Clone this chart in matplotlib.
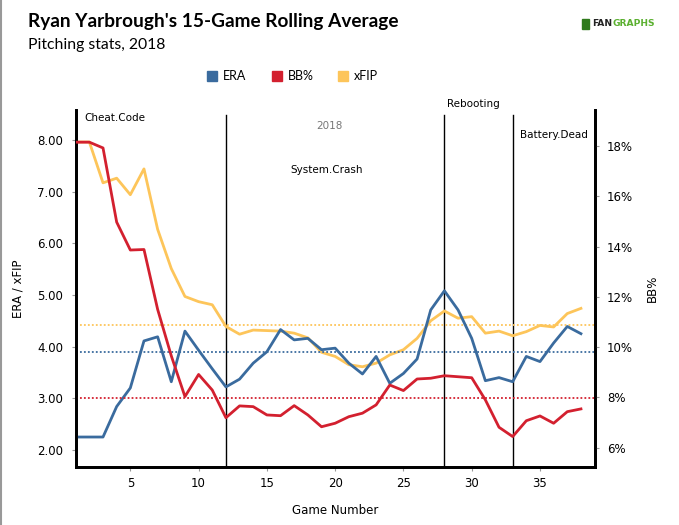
import matplotlib
matplotlib.use("Agg")
import matplotlib.pyplot as plt
from matplotlib.patches import Rectangle
from matplotlib.lines import Line2D

# 15-game rolling averages, games 1..38
games = list(range(1, 39))
era = [2.25, 2.25, 2.25, 2.84, 3.20, 4.11, 4.19, 3.32, 4.30, 3.93,
       3.57, 3.22, 3.37, 3.68, 3.90, 4.33, 4.13, 4.16, 3.94, 3.97,
       3.68, 3.47, 3.81, 3.29, 3.48, 3.76, 4.71, 5.08, 4.71, 4.16,
       3.34, 3.40, 3.32, 3.81, 3.71, 4.07, 4.39, 4.25]
bb_pct = [18.15, 18.15, 17.92, 14.97, 13.86, 13.88, 11.50, 9.65, 8.03, 8.91,
          8.29, 7.19, 7.66, 7.63, 7.30, 7.27, 7.67, 7.30, 6.83, 6.97,
          7.23, 7.37, 7.70, 8.49, 8.27, 8.73, 8.76, 8.86, 8.82, 8.78,
          7.90, 6.81, 6.44, 7.07, 7.26, 6.97, 7.43, 7.54]
xfip = [7.96, 7.96, 7.17, 7.26, 6.94, 7.44, 6.27, 5.51, 4.97, 4.87,
        4.81, 4.39, 4.24, 4.32, 4.31, 4.30, 4.26, 4.17, 3.89, 3.81,
        3.65, 3.61, 3.68, 3.84, 3.94, 4.16, 4.50, 4.69, 4.55, 4.58,
        4.26, 4.30, 4.21, 4.29, 4.41, 4.38, 4.64, 4.74]

# season averages (dotted reference lines)
era_avg = 3.90
xfip_avg = 4.41
bb_avg = 7.96

# phase boundaries and labels
phase_breaks = [12, 28, 33]
phase_labels = [("Cheat.Code", 1.6, 8.43, "left"),
                ("System.Crash", 19.35, 7.42, "center"),
                ("Rebooting", 30.1, 8.70, "center"),
                ("Battery.Dead", 36.0, 8.10, "center")]

era_ticks = [2, 3, 4, 5, 6, 7, 8]
bb_ticks = [6, 8, 10, 12, 14, 16, 18]
game_ticks = [5, 10, 15, 20, 25, 30, 35]

BLUE = "#3a6b9e"
RED = "#d3202f"
YELLOW = "#fdc55a"

fig = plt.figure(figsize=(6.79, 5.25), dpi=100)
ax = fig.add_axes([0.1115, 0.1105, 0.7642, 0.68])
ax2 = ax.twinx()

ax.plot(games, era, color=BLUE, lw=2.0, zorder=3)
ax.plot(games, xfip, color=YELLOW, lw=2.0, zorder=2)
ax2.plot(games, bb_pct, color=RED, lw=2.0, zorder=3)

dots = (0, (1, 1.2))
ax.axhline(xfip_avg, color=YELLOW, lw=1.3, ls=dots)
ax.axhline(era_avg, color=BLUE, lw=1.3, ls=dots)
ax2.axhline(bb_avg, color=RED, lw=1.3, ls=dots)

for g in phase_breaks:
    ax.axvline(g, ymax=0.986, color="black", lw=1.0, zorder=1)

ax.set_xlim(1, 39)
ax.set_ylim(1.67, 8.58)
ax2.set_ylim(5.23, 19.43)

ax.set_xticks(game_ticks)
ax.set_yticks(era_ticks)
ax.set_yticklabels([f"{v:.2f}" for v in era_ticks])
ax2.set_yticks(bb_ticks)
ax2.set_yticklabels([f"{v}%" for v in bb_ticks])

for a in (ax, ax2):
    a.tick_params(labelsize=8.5, length=3, color="#999999", pad=4)
    a.spines["top"].set_visible(False)
    for s in ("left", "right", "bottom"):
        a.spines[s].set_linewidth(2.0)
ax.tick_params(axis="y", pad=6)
ax2.tick_params(axis="y", pad=6)

ax.set_xlabel("Game Number", fontsize=8.5, labelpad=10)
ax.set_ylabel("ERA / xFIP", fontsize=8.5, labelpad=9)
ax2.set_ylabel("BB%", fontsize=8.5, labelpad=9)

for text, gx, gy, ha in phase_labels:
    ax.text(gx, gy, text, fontsize=7.5, ha=ha, va="center", clip_on=False)
ax.text(19.6, 8.27, "2018", fontsize=7.5, ha="center", va="center",
        color="#777777")

# title block
fig.text(28 / 679, 1 - 22 / 525, "Ryan Yarbrough's 15-Game Rolling Average",
         family="Lato", weight="bold", fontsize=13.7, va="center")
fig.text(28 / 679, 1 - 45 / 525, "Pitching stats, 2018",
         family="Lato", fontsize=11.3, va="center")

# logo: "FAN" dark, "GRAPHS" green, placed right after it
fan = fig.text(592 / 679, 1 - 24 / 525, "FAN", family="DejaVu Sans",
               weight="bold", fontsize=6.6, va="center", color="#222222")
fig.add_artist(plt.Annotation("GRAPHS", xy=(1.0, 0.5), xycoords=fan,
                              va="center", ha="left", family="DejaVu Sans",
                              weight="bold", fontsize=6.6, color="#5bb030"))
fig.patches.append(Rectangle((582 / 679, 1 - 29 / 525), 7 / 679, 10 / 525,
                             transform=fig.transFigure, color="#2f7a1c"))

# legend
legend_items = [("ERA", BLUE, 207), ("BB%", RED, 272), ("xFIP", YELLOW, 338)]
for name, col, px in legend_items:
    fig.patches.append(Rectangle((px / 679, 1 - 81 / 525), 10 / 679, 10 / 525,
                                 transform=fig.transFigure, color=col))
    fig.text((px + 16) / 679, 1 - 76 / 525, name, fontsize=9, va="center",
             family="Lato")

# grey left border
fig.add_artist(Line2D([0.5 / 679, 0.5 / 679], [0, 1], color="#999999",
                      lw=1.5, transform=fig.transFigure))

fig.savefig("out.png", dpi=100)
